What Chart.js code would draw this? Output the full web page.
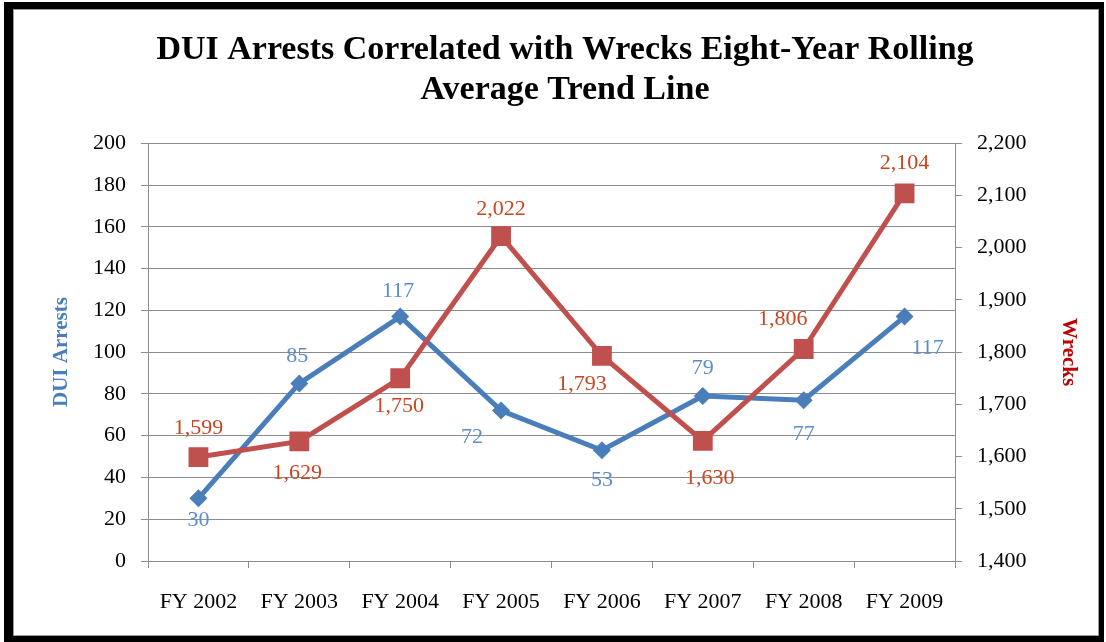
<!DOCTYPE html>
<html>
<head>
<meta charset="utf-8">
<script src="https://cdn.jsdelivr.net/npm/chart.js@4.4.1/dist/chart.umd.min.js"></script>
<style>
  body { margin: 0; background: #fff; }
  #wrap { position: relative; width: 1106px; height: 642px; }
  #frame {
    position: absolute; left: 4px; top: 2px; right: 2px; bottom: 0;
    border-style: solid; border-color: #000;
    border-width: 7px 5px 6px 9px;
    box-shadow: inset 0 0 0 1px #999;
    pointer-events: none;
  }
</style>
</head>
<body>
<div id="wrap">
  <canvas id="chart" width="1106" height="642"></canvas>
  <div id="frame"></div>
</div>
<script>
// chart data
const years = ['FY 2002', 'FY 2003', 'FY 2004', 'FY 2005', 'FY 2006', 'FY 2007', 'FY 2008', 'FY 2009'];
const duiArrests = [30, 85, 117, 72, 53, 79, 77, 117];
const wrecks = [1599, 1629, 1750, 2022, 1793, 1630, 1806, 2104];
const leftTicks = [0, 200, 20];      // min, max, step
const rightTicks = [1400, 2200, 100];

// label offsets from each point (dx, dy)
const duiLabelOffsets = [[0, 22], [-2, -27], [-2, -25], [-29, 27], [0, 30], [0, -28], [0, 34], [23, 32]];
const wreckLabelOffsets = [[0, -29], [-2, 32], [-1, 28], [0, -27], [-20, 28], [7, 37], [-21, -30], [0, -30]];

const BLUE = '#4A7EBB';
const BLUE_TEXT = '#5B8DCB';
const RED = '#C0504D';
const RED_TEXT = '#C8451F';
const GRID = '#8C8C8C';
const SERIF = "'Liberation Serif', 'Times New Roman', serif";

const fmt = (v) => v.toLocaleString('en-US');

const pointLabels = {
  id: 'pointLabels',
  afterDatasetsDraw(chart) {
    const ctx = chart.ctx;
    ctx.save();
    ctx.font = `22px ${SERIF}`;
    ctx.textAlign = 'center';
    ctx.textBaseline = 'middle';
    chart.data.datasets.forEach((ds, i) => {
      const meta = chart.getDatasetMeta(i);
      meta.data.forEach((pt, j) => {
        const off = ds.labelOffsets[j];
        ctx.fillStyle = ds.labelColor;
        ctx.fillText(fmt(ds.data[j]), pt.x + off[0], pt.y + off[1]);
      });
    });
    ctx.restore();
  },
};

const ctx = document.getElementById('chart').getContext('2d');
new Chart(ctx, {
  type: 'line',
  data: {
    labels: years,
    datasets: [
      {
        label: 'DUI Arrests',
        data: duiArrests,
        yAxisID: 'y',
        borderColor: BLUE,
        backgroundColor: BLUE,
        borderWidth: 5,
        pointStyle: 'rectRot',
        pointRadius: 9,
        pointBorderWidth: 0,
        tension: 0,
        order: 1,
        labelColor: BLUE_TEXT,
        labelOffsets: duiLabelOffsets,
      },
      {
        label: 'Wrecks',
        data: wrecks,
        yAxisID: 'y1',
        borderColor: RED,
        backgroundColor: RED,
        borderWidth: 5,
        pointStyle: 'rect',
        pointRadius: 14,
        pointBorderWidth: 0,
        tension: 0,
        order: 0,
        labelColor: RED_TEXT,
        labelOffsets: wreckLabelOffsets,
      },
    ],
  },
  options: {
    responsive: false,
    animation: false,
    layout: {
      padding: { left: 49, right: 25, top: 10, bottom: 10 },
    },
    plugins: {
      legend: { display: false },
      tooltip: { enabled: false },
      title: {
        display: true,
        text: ['DUI Arrests Correlated with Wrecks Eight-Year Rolling', 'Average Trend Line'],
        color: '#000',
        font: { family: SERIF, size: 34, weight: 'bold', lineHeight: 1.18 },
        padding: { top: 20, bottom: 33 },
      },
    },
    scales: {
      x: {
        offset: true,
        grid: {
          offset: true,
          drawOnChartArea: false,
          color: GRID,
          tickLength: 7,
        },
        border: { display: false },
        ticks: {
          color: '#000',
          padding: 21,
          font: { family: SERIF, size: 22 },
        },
        afterFit: (scale) => { scale.height = 71; },
      },
      y: {
        position: 'left',
        min: leftTicks[0],
        max: leftTicks[1],
        ticks: {
          stepSize: leftTicks[2],
          color: '#000',
          padding: 15,
          font: { family: SERIF, size: 22 },
        },
        grid: { color: GRID, tickLength: 7 },
        border: { color: GRID },
        title: {
          display: true,
          text: 'DUI Arrests',
          color: BLUE,
          font: { family: SERIF, size: 21, weight: 'bold' },
          padding: { top: 0, bottom: 0 },
        },
        afterFit: (scale) => { scale.width = 99; },
      },
      y1: {
        position: 'right',
        min: rightTicks[0],
        max: rightTicks[1],
        ticks: {
          stepSize: rightTicks[2],
          color: '#000',
          padding: 15,
          font: { family: SERIF, size: 22 },
          callback: (v) => fmt(v),
        },
        grid: { drawOnChartArea: false, color: GRID, tickLength: 7 },
        border: { color: GRID },
        title: {
          display: true,
          text: 'Wrecks',
          color: '#C00000',
          font: { family: SERIF, size: 21, weight: 'bold' },
          padding: { top: 0, bottom: 0 },
        },
        afterFit: (scale) => { scale.width = 126; },
      },
    },
  },
  plugins: [pointLabels],
});
</script>
</body>
</html>
